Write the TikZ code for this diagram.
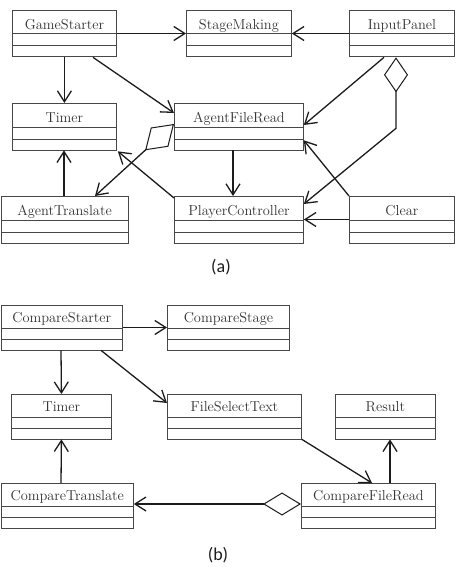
\documentclass[tikz,border=0pt]{standalone}
\usepackage{fontspec}
\newfontfamily\capfont{Carlito}
\usetikzlibrary{arrows.meta,calc}
\definecolor{boxc}{HTML}{474747}
\definecolor{txtc}{HTML}{333333}
\definecolor{linec}{HTML}{1C1C1C}
\tikzset{
  cls/.style={draw=boxc, line width=0.85pt, fill=white, inner sep=0pt, anchor=north west,
    text=txtc, font=\fontsize{14.4}{17}\selectfont},
  divs/.style n args={2}{path picture={
    \draw[boxc, line width=0.85pt]
      ([yshift=-#1]path picture bounding box.north west) -- ([yshift=-#1]path picture bounding box.north east)
      ([yshift=-#2]path picture bounding box.north west) -- ([yshift=-#2]path picture bounding box.north east);}},
  clsa/.style={cls, minimum height=46.5pt, text height=19.3pt, text depth=27.2pt, divs={23.5pt}{35.5pt}, minimum width=#1},
  clsb/.style={cls, minimum height=44.5pt, text height=17.3pt, text depth=27.2pt, divs={22.5pt}{33.5pt}, minimum width=#1},
  barb/.tip={Straight Barb[length=11pt,width=14pt,line width=1.3pt]},
  conn/.style={draw=linec, line width=1.3pt, -barb},
  lab/.style={font=\capfont\fontsize{18}{20}\selectfont, text=linec, inner sep=0pt}
}
\begin{document}
\begin{tikzpicture}[x=1pt,y=-1pt]
\useasboundingbox (0,0) rectangle (459,567);
% ---------- (a)
\node[clsa=104pt] (gs)  at (12,10)   {GameStarter};
\node[clsa=105pt] (sm)  at (186,10)  {StageMaking};
\node[clsa=105pt] (ip)  at (349,10)  {InputPanel};
\node[clsa=104pt] (tma) at (12,103)  {Timer};
\node[clsa=129pt] (afr) at (174,103) {AgentFileRead};
\node[clsa=127pt] (at)  at (0.6,196) {AgentTranslate};
\node[clsa=129pt] (pc)  at (174,196) {PlayerController};
\node[clsa=105pt] (cl)  at (349,196) {Clear};

\draw[conn] ($(gs.north east)+(0,23.5)$) -- ($(sm.north west)+(0,23.5)$);
\draw[conn] ($(ip.north west)+(0,23.5)$) -- ($(sm.north east)+(0,23.5)$);
\draw[conn] (gs.south) -- (tma.north);
\draw[conn] ($(gs.south west)+(81,0)$) -- ($(afr.north west)+(0,10)$);
\draw[conn] ($(ip.south west)+(35,0)$) -- ($(afr.north east)+(0,22)$);
\coordinate (ipbend) at ($(ip.south west)+(47,71)$);
\draw[conn, {Diamond[fill=white,length=35pt,width=24pt,line width=1.0pt]}-barb]
  ($(ip.south west)+(47,0)$) -- (ipbend) -- ($(pc.north east)+(0,8)$);
\draw[conn, {Diamond[fill=white,length=39pt,width=26pt,line width=1.0pt]}-barb]
  ($(afr.north west)+(0,21)$) -- ($(at.north west)+(94.4,0)$);
\draw[conn] ($(pc.north west)+(0,2)$) -- ($(tma.south east)+(1,1)$);
\draw[conn] ($(afr.south west)+(59,0)$) -- ($(pc.north west)+(59,0)$);
\draw[conn] ($(at.north west)+(63.4,0)$) -- ($(tma.south west)+(52,0)$);
\draw[conn] (cl.north west) -- ($(afr.south east)+(0,-10)$);
\draw[conn] ($(cl.north west)+(0,23.5)$) -- ($(pc.north east)+(0,23.5)$);

\node[lab] (la) at (221,267) {(a)};

% ---------- (b)
\node[clsb=121.4pt] (cs)  at (0.6,305) {CompareStarter};
\node[clsb=122pt] (cst) at (167,305) {CompareStage};
\node[clsb=100pt] (tmb) at (11,394)  {Timer};
\node[clsb=134pt] (fst) at (167,394) {FileSelectText};
\node[clsb=100pt] (res) at (335,394) {Result};
\node[clsb=132.4pt] (ct)  at (0.6,483) {CompareTranslate};
\node[clsb=134pt] (cfr) at (301,483) {CompareFileRead};

\draw[conn] ($(cs.north east)+(0,22.5)$) -- ($(cst.north west)+(0,22.5)$);
\draw[conn] ($(cs.south west)+(60.4,0)$) -- (tmb.north);
\draw[conn] ($(cs.south west)+(100.4,0)$) -- ($(fst.north west)+(0,9)$);
\draw[conn] (fst.south east) -- ($(cfr.north west)+(71,0)$);
\draw[conn] ($(cfr.north west)+(89,0)$) -- ($(res.south west)+(55,0)$);
\draw[conn, {Diamond[fill=white,length=38pt,width=23pt,line width=1.0pt]}-barb]
  ($(cfr.north west)+(0,21)$) -- ($(ct.north east)+(0,21)$);
\draw[conn] ($(ct.north west)+(60.4,0)$) -- (tmb.south);

\node[lab] (lb) at (218,555) {(b)};
\end{tikzpicture}
\end{document}
